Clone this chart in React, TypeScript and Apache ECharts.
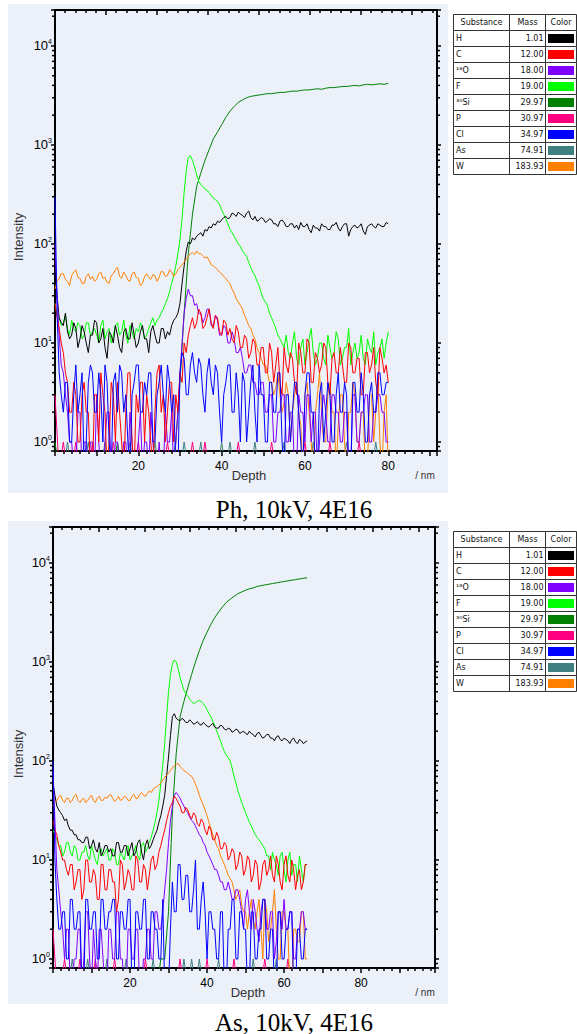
import React, { useEffect, useRef } from 'react';
import * as echarts from 'echarts';

// ---------- Legend table ----------
const SUBSTANCES = ['H', 'C', '¹⁸O', 'F', '³⁰Si', 'P', 'Cl', 'As', 'W'];
const MASSES = ['1.01', '12.00', '18.00', '19.00', '29.97', '30.97', '34.97', '74.91', '183.93'];
const COLORS = ['#000000', '#FF0000', '#8000FF', '#00FF00', '#008000', '#FF0080', '#0000FF', '#408080', '#FF8000'];
const TABLE_HEADERS = ['Substance', 'Mass', 'Color'];

// ---------- Axes ----------
const X_LABELS = [20, 40, 60, 80];
const Y_MINOR_TICKS = [0.9, 2, 3, 4, 5, 6, 7, 8, 9, 20, 30, 40, 50, 60, 70, 80, 90, 200, 300, 400, 500, 600, 700, 800, 900,
  2000, 3000, 4000, 5000, 6000, 7000, 8000, 9000, 20000];
const Y_MIN = 0.811;
const Y_MAX = 23100;
const CAPTIONS = ['Ph, 10kV, 4E16', 'As, 10kV, 4E16'];
// sampling step (nm) of each series, in SUBSTANCES order; samples start at 0 nm
const SERIES_STEP = [0.5, 0.5, 0.5, 0.5, 1, 1, 0.5, 1, 0.5];
const ZERO_FLOOR = 0.5; // zero counts sit below the axis floor

// ---------- Panel 1: Ph (depth 0..80 nm) ----------
const PH_H = [60, 30, 18, 16, 15, 20, 13, 11, 12, 16,
  14, 9, 11, 15, 13, 10, 8, 12, 12, 17,
  16, 10, 11, 14, 9, 7, 13, 12, 10, 15,
  12, 9, 8, 13, 14, 11, 11, 16, 12, 9,
  10, 13, 15, 11, 11, 8, 13, 15, 12, 10,
  10, 14, 14, 11, 13, 12, 15, 17, 18, 20,
  25, 40, 60, 85, 105, 100, 115, 110, 120, 125,
  130, 120, 140, 135, 150, 145, 160, 155, 170, 165,
  175, 185, 190, 180, 185, 205, 200, 190, 210, 200,
  195, 185, 205, 215, 185, 175, 190, 170, 175, 185,
  180, 165, 170, 180, 175, 160, 160, 150, 170, 175,
  165, 150, 150, 160, 160, 145, 155, 140, 165, 150,
  150, 160, 140, 130, 155, 145, 145, 135, 160, 150,
  150, 140, 140, 155, 155, 165, 145, 135, 150, 160,
  160, 120, 140, 150, 155, 145, 150, 160, 135, 125,
  150, 155, 160, 150, 145, 160, 155, 150, 150, 165,
  160];
const PH_C = [25, 18, 14, 10, 8, 5, 4, 2, 2, 4,
  3, 1, 1, 3, 4, 2, 2, 0, 0, 3,
  3, 1, 5, 3, 2, 0, 1, 4, 3, 1,
  4, 2, 1, 0, 2, 5, 5, 1, 0, 3,
  2, 4, 4, 1, 3, 2, 1, 0, 2, 5,
  6, 2, 3, 1, 2, 4, 4, 1, 3, 2,
  5, 4, 10, 8, 12, 15, 18, 14, 16, 22,
  20, 14, 15, 18, 22, 16, 14, 19, 18, 13,
  12, 17, 16, 12, 14, 11, 10, 15, 13, 9,
  9, 12, 11, 7, 8, 11, 10, 6, 6, 9,
  9, 5, 5, 10, 8, 4, 6, 9, 4, 3,
  9, 6, 5, 8, 7, 4, 3, 10, 8, 5,
  5, 11, 10, 4, 4, 8, 7, 5, 6, 10,
  9, 4, 3, 7, 8, 5, 5, 9, 6, 4,
  4, 10, 9, 5, 5, 7, 7, 3, 3, 8,
  8, 5, 6, 9, 4, 3, 9, 7, 5, 6,
  4];
const PH_O18 = [100, 30, 12, 6, 5, 3, 2, 1, 1, 0,
  0, 2, 2, 0, 1, 1, 0, 1, 1, 0,
  3, 1, 0, 0, 1, 2, 2, 0, 0, 1,
  1, 0, 0, 1, 1, 0, 2, 1, 0, 0,
  1, 2, 0, 1, 1, 0, 2, 1, 0, 0,
  1, 0, 0, 2, 1, 1, 2, 0, 1, 2,
  5, 10, 20, 28, 35, 30, 30, 24, 25, 20,
  20, 16, 18, 22, 22, 15, 15, 19, 17, 12,
  12, 15, 14, 10, 10, 13, 11, 8, 8, 9,
  7, 5, 5, 6, 6, 4, 4, 3, 3, 4,
  4, 2, 2, 3, 3, 1, 1, 2, 2, 3,
  3, 1, 1, 2, 2, 0, 0, 3, 2, 2,
  1, 3, 3, 1, 2, 2, 0, 1, 2, 3,
  2, 1, 1, 3, 3, 2, 2, 1, 1, 2,
  2, 0, 0, 3, 3, 1, 1, 2, 2, 3,
  3, 1, 1, 2, 2, 3, 3, 2, 2, 1,
  1];
const PH_F = [25, 20, 18, 15, 16, 19, 14, 12, 17, 14,
  13, 16, 15, 11, 12, 16, 16, 12, 13, 14,
  12, 10, 15, 17, 11, 13, 14, 10, 12, 15,
  16, 12, 13, 17, 12, 10, 15, 13, 11, 14,
  13, 16, 14, 11, 12, 14, 16, 18, 15, 17,
  18, 20, 22, 25, 28, 33, 40, 48, 60, 80,
  110, 180, 330, 550, 750, 780, 700, 600, 500, 430,
  400, 380, 360, 350, 330, 310, 290, 280, 270, 250,
  220, 200, 180, 160, 140, 130, 120, 110, 100, 95,
  85, 80, 75, 65, 58, 52, 48, 42, 38, 32,
  28, 26, 24, 20, 18, 16, 14, 12, 11, 10,
  9, 12, 8, 7, 10, 13, 7, 6, 9, 11,
  6, 8, 11, 14, 8, 6, 7, 10, 10, 7,
  6, 12, 9, 7, 8, 13, 11, 6, 7, 9,
  9, 14, 6, 8, 10, 7, 8, 12, 7, 6,
  11, 9, 8, 13, 6, 8, 9, 11, 7, 10,
  13];
const PH_SI30 = [1, 0, 0, 0, 0, 0, 0, 0, 0, 0, 0, 0, 0, 0, 0, 1, 0, 0, 0, 0, 0, 0, 0, 0, 0, 0, 0, 0, 0, 1,
  4, 20, 80, 200, 380, 520, 700, 900, 1150, 1350, 1600, 1900, 2200, 2450, 2700, 2850, 3000, 3100, 3150, 3200,
  3250, 3300, 3300, 3350, 3400, 3400, 3450, 3500, 3500, 3550, 3600, 3600, 3650, 3700, 3650, 3750, 3800, 3800, 3850, 3900,
  3900, 3950, 4000, 3950, 4050, 4100, 4050, 4100, 4150, 4100, 4200];
const PH_P = [3, 0, 1, 0, 0, 1, 0, 0, 0, 1, 0, 0, 0, 0, 1, 0, 0, 0, 0, 0, 1, 0, 0, 0, 0, 0, 0, 1, 0, 0,
  0, 0, 0, 1, 0, 0, 1, 0, 0, 0, 0, 0, 0, 0, 1, 0, 0, 0, 0, 0, 0, 0, 1, 0, 0, 0, 0, 0, 0, 0,
  1, 0, 0, 0, 0, 0, 1, 0, 0, 0, 0, 0, 0, 1, 0, 0, 0, 0, 0, 0, 0];
const PH_CL = [300, 20, 5, 3, 2, 4, 4, 1, 1, 3,
  6, 2, 3, 5, 0, 1, 4, 6, 5, 2,
  2, 5, 3, 1, 6, 4, 1, 0, 4, 5,
  2, 6, 5, 2, 3, 1, 0, 3, 4, 6,
  6, 2, 2, 4, 3, 5, 5, 1, 1, 3,
  4, 6, 3, 2, 6, 4, 2, 3, 0, 0,
  5, 8, 7, 3, 3, 6, 8, 5, 4, 7,
  6, 3, 2, 5, 7, 4, 3, 6, 5, 2,
  1, 3, 4, 6, 6, 2, 2, 5, 3, 1,
  5, 4, 1, 2, 4, 6, 2, 1, 6, 3,
  3, 1, 1, 4, 4, 2, 2, 5, 5, 1,
  0, 3, 3, 1, 2, 4, 4, 2, 1, 0,
  3, 5, 5, 2, 2, 0, 0, 3, 4, 1,
  2, 4, 3, 1, 1, 3, 5, 2, 2, 4,
  3, 0, 0, 4, 4, 2, 2, 5, 3, 1,
  1, 3, 4, 2, 2, 5, 5, 3, 3, 4,
  4];
const PH_AS = [0, 0, 0, 1, 0, 0, 0, 0, 1, 0, 0, 0, 1, 0, 0, 0, 0, 0, 1, 0, 0, 0, 0, 0, 1, 0, 0, 0, 0, 0,
  0, 1, 0, 0, 0, 1, 0, 0, 0, 0, 1, 0, 1, 0, 0, 0, 0, 0, 1, 0, 0, 0, 0, 0, 0, 1, 0, 0, 0, 0,
  0, 0, 1, 0, 0, 0, 0, 0, 0, 0, 1, 0, 0, 0, 0, 0, 0, 1, 0, 0, 0];
const PH_W = [35, 42, 45, 50, 50, 44, 42, 38, 48, 52,
  55, 46, 45, 40, 40, 47, 50, 44, 47, 42,
  44, 50, 52, 45, 46, 41, 40, 48, 50, 55,
  58, 47, 45, 52, 48, 43, 42, 50, 52, 46,
  45, 38, 40, 47, 50, 46, 44, 49, 48, 42,
  46, 53, 52, 47, 48, 55, 52, 47, 50, 55,
  58, 62, 65, 70, 75, 80, 82, 78, 85, 80,
  80, 76, 72, 74, 68, 62, 60, 58, 55, 52,
  50, 47, 45, 42, 40, 35, 32, 28, 26, 24,
  22, 19, 17, 15, 14, 12, 11, 9, 8, 7,
  6, 6, 5, 4, 4, 3, 3.5, 5, 3, 2,
  2.5, 4, 3, 1, 2, 3, 4, 2, 1.5, 0,
  3, 4, 2, 1, 0, 2, 3, 5, 2, 1,
  1, 3, 4, 2, 2, 0, 1.5, 3, 3, 1,
  0, 2, 2, 4, 3, 1, 1, 2, 2, 0,
  0, 3, 3, 1, 2, 4, 1, 0, 2, 3,
  0];

// ---------- Panel 2: As (depth 0..66 nm) ----------
const AS_H = [60, 45, 35, 32, 30, 28, 25, 26, 22, 20,
  20, 18, 18, 16, 16, 15, 15, 17, 17, 13,
  14, 16, 13, 12, 15, 11, 12, 14, 14, 12,
  13, 11, 11, 15, 15, 12, 12, 14, 14, 11,
  13, 15, 11, 12, 15, 16, 12, 10, 14, 16,
  13, 14, 16, 18, 20, 24, 28, 35, 45, 70,
  110, 180, 280, 300, 270, 260, 255, 270, 260, 245,
  245, 260, 250, 235, 240, 250, 235, 230, 245, 235,
  225, 220, 230, 240, 220, 215, 215, 230, 225, 210,
  205, 215, 210, 195, 200, 210, 205, 190, 195, 200,
  190, 185, 200, 190, 185, 175, 190, 195, 180, 170,
  175, 185, 185, 170, 170, 160, 175, 180, 165, 160,
  170, 165, 160, 150, 165, 170, 155, 150, 165, 160,
  150, 155, 160];
const AS_C = [25, 20, 18, 14, 12, 10, 10, 8, 7, 9,
  9, 5, 6, 8, 8, 4, 5, 10, 10, 6,
  6, 8, 7, 4, 4, 9, 9, 5, 5, 8,
  8, 6, 6, 3, 4, 10, 9, 5, 6, 8,
  7, 5, 5, 11, 10, 6, 6, 9, 8, 5,
  7, 10, 11, 8, 9, 12, 14, 17, 20, 25,
  30, 35, 38, 44, 42, 38, 35, 30, 30, 34,
  32, 28, 26, 30, 28, 23, 22, 26, 24, 20,
  18, 22, 20, 16, 16, 19, 17, 13, 13, 15,
  14, 10, 11, 13, 12, 8, 9, 12, 11, 7,
  8, 11, 10, 6, 7, 10, 9, 5, 6, 9,
  10, 7, 8, 11, 7, 6, 11, 9, 6, 5,
  9, 11, 7, 6, 10, 8, 5, 7, 8, 5,
  6, 9, 9];
const AS_O18 = [80, 25, 8, 5, 3, 2, 1, 2, 2, 0,
  0, 1, 1, 2, 2, 0, 1, 3, 3, 1,
  0, 2, 1, 0, 2, 2, 1, 0, 0, 2,
  2, 1, 1, 3, 3, 1, 1, 0, 0, 2,
  2, 1, 1, 2, 2, 0, 0, 1, 1, 2,
  2, 1, 1, 3, 3, 2, 2, 3, 5, 8,
  15, 25, 35, 45, 48, 45, 42, 38, 35, 32,
  30, 27, 25, 24, 22, 20, 18, 17, 15, 14,
  12, 11, 10, 9, 8, 8, 7, 6, 6, 5,
  5, 6, 5, 4, 4, 5, 5, 4, 3, 2,
  4, 5, 3, 2, 4, 3, 2, 1.5, 3, 4,
  4, 2, 2, 3, 3, 1, 1.5, 3, 3, 2,
  4, 2, 2, 3, 3, 1, 1, 2, 2, 3,
  3, 2, 2];
const AS_F = [20, 18, 16, 14, 14, 11, 12, 15, 15, 12,
  11, 14, 13, 10, 10, 12, 12, 14, 11, 10,
  14, 12, 10, 9, 12, 13, 11, 12, 13, 10,
  10, 13, 12, 9, 9, 12, 11, 10, 13, 14,
  10, 11, 12, 14, 11, 10, 14, 15, 12, 13,
  15, 17, 20, 24, 30, 40, 60, 90, 150, 280,
  500, 750, 950, 1050, 1000, 850, 700, 600, 520, 480,
  450, 420, 400, 380, 390, 400, 410, 400, 380, 360,
  330, 300, 280, 250, 230, 200, 180, 160, 140, 125,
  115, 108, 100, 85, 70, 60, 50, 44, 38, 34,
  30, 27, 24, 22, 20, 18, 17, 16, 15, 14,
  13, 11, 11, 8, 12, 10, 9, 7, 11, 12,
  8, 6, 10, 12, 7, 9, 9, 6, 11, 8,
  6, 9, 9];
const AS_SI30 = [0, 0, 0, 0, 0, 0, 0, 0, 0, 0, 0, 0, 0, 0, 0, 0, 0, 0, 0, 0, 0, 0, 0, 0, 0, 0, 0, 0, 1, 1,
  3, 30, 120, 280, 400, 550, 750, 1000, 1300, 1650, 2000, 2400, 2800, 3200, 3600, 4000, 4300, 4600, 4900, 5100,
  5300, 5500, 5600, 5800, 5900, 6000, 6100, 6200, 6300, 6400, 6500, 6600, 6700, 6800, 6900, 7000, 7100];
const AS_P = [2, 0, 0, 1, 0, 0, 0, 1, 0, 0, 0, 1, 0, 0, 0, 0, 1, 0, 0, 0, 0, 0, 0, 0, 1, 0, 0, 0, 0, 0,
  0, 0, 0, 1, 0, 0, 0, 0, 0, 0, 1, 0, 0, 0, 0, 0, 0, 1, 0, 0, 0, 0, 0, 0, 0, 1, 0, 0, 0, 0,
  0, 1, 0, 0, 0, 0, 0];
const AS_CL = [100, 10, 4, 2, 2, 3, 3, 1, 1, 4,
  4, 2, 2, 3, 3, 0, 0, 4, 4, 2,
  2, 3, 3, 1, 1, 4, 4, 2, 2, 3,
  3, 4, 4, 1, 1, 3, 3, 2, 2, 4,
  4, 0, 0, 3, 3, 2, 2, 4, 4, 1,
  1, 3, 3, 2, 2, 1, 1, 4, 0, 0,
  0, 2, 6, 3, 3, 9, 9, 4, 4, 7,
  7, 3, 3, 5, 10, 2, 2, 4, 6, 3,
  1, 3, 3, 2, 2, 1, 1, 3, 3, 0,
  0, 2, 2, 4, 4, 1, 1, 3, 3, 2,
  2, 0, 0, 3, 3, 1, 1, 2, 2, 4,
  4, 1, 1, 2, 2, 0, 0, 3, 3, 1,
  1, 2, 2, 3, 3, 0, 0, 2, 2, 1,
  1, 2, 2];
const AS_AS = [0, 0, 0, 0, 0, 1, 0, 0, 0, 1, 0, 0, 0, 0, 1, 0, 0, 0, 0, 1, 0, 0, 0, 0, 0, 0, 1, 0, 0, 0,
  0, 0, 0, 0, 1, 0, 1, 0, 1, 0, 0, 0, 0, 1, 0, 0, 0, 0, 0, 0, 0, 0, 1, 0, 0, 0, 0, 0, 1, 0,
  0, 0, 0, 0, 0, 0, 0];
const AS_W = [35, 38, 40, 43, 45, 40, 38, 42, 42, 38,
  40, 44, 46, 40, 38, 41, 42, 38, 40, 43,
  45, 40, 38, 42, 44, 40, 40, 43, 42, 45,
  46, 42, 39, 41, 44, 40, 41, 44, 43, 40,
  40, 44, 46, 42, 42, 46, 48, 45, 44, 47,
  50, 48, 52, 54, 55, 57, 60, 64, 68, 72,
  75, 80, 85, 90, 92, 95, 88, 84, 80, 78,
  75, 72, 70, 65, 58, 52, 45, 40, 36, 32,
  28, 24, 21, 18, 16, 14, 13, 11, 10, 9,
  8, 7, 6.5, 6, 5, 4, 4.5, 5, 3.5, 3,
  3, 2, 3, 4, 2.5, 2, 3, 4, 2, 1,
  4, 3, 1.5, 2, 3, 5, 2, 1, 1, 3,
  3, 2, 2, 0, 0, 2, 2, 1.5, 1.5, 3,
  3, 1, 1];

// order matches SUBSTANCES
const PH_SERIES = [PH_H, PH_C, PH_O18, PH_F, PH_SI30, PH_P, PH_CL, PH_AS, PH_W];
const AS_SERIES = [AS_H, AS_C, AS_O18, AS_F, AS_SI30, AS_P, AS_CL, AS_AS, AS_W];
const PANEL_DATA = [PH_SERIES, AS_SERIES];
const DRAW_ORDER = [7, 5, 4, 3, 0, 8, 2, 1, 6];

// ---------- Layout (positions / styles only) ----------
const LAYOUT = [
  { left: 55, top: 10, width: 382, height: 441, bgTop: 4, bgH: 489, xMax: 91.7, topMax: 7.49, captionY: 509, tableTop: 14, depthX: 249 },
  { left: 53, top: 527, width: 382, height: 441, bgTop: 521, bgH: 483, xMax: 99.2, topMax: 8.36, captionY: 1022, tableTop: 531, depthX: 248 },
];
const BG = '#ECF0F9';
const SANS = 'Liberation Sans, Arial, sans-serif';
const TABLE_FONT = 'DejaVu Sans, Liberation Sans, sans-serif';
const COL_X = [453, 509, 545, 576];
const ROW_H = 16;

function logLabel(v: number) {
  const e = Math.log10(v);
  const r = Math.round(e);
  if (Math.abs(e - r) > 1e-6) return '';
  return `{b|10}{s|${r}}`;
}

function buildOption() {
  const grid: any[] = [];
  const xAxis: any[] = [];
  const yAxis: any[] = [];
  const series: any[] = [];
  const graphic: any[] = [];

  LAYOUT.forEach((L, p) => {
    grid.push({ left: L.left, top: L.top, width: L.width, height: L.height, containLabel: false });
    const axisLine = { show: true, onZero: false, lineStyle: { color: '#000', width: 2 } };
    xAxis.push({
      type: 'value', gridIndex: p, position: 'bottom', min: 0, max: L.xMax, interval: 10,
      axisLine,
      axisTick: { show: true, inside: false, length: 5, lineStyle: { color: '#000', width: 1.5 } },
      minorTick: { show: true, splitNumber: 5, length: 3, lineStyle: { color: '#000', width: 1.5 } },
      axisLabel: {
        show: true, margin: 9, color: '#000', fontSize: 12, fontFamily: SANS,
        formatter: (v: number) => (X_LABELS.indexOf(v) >= 0 ? String(v) : ''),
      },
      splitLine: { show: false }, minorSplitLine: { show: false },
    });
    xAxis.push({
      type: 'value', gridIndex: p, position: 'top', min: 0, max: L.topMax, interval: 1,
      axisLine,
      axisTick: { show: true, inside: true, length: 5, lineStyle: { color: '#000', width: 1.5 } },
      minorTick: { show: true, splitNumber: 5, length: 3, lineStyle: { color: '#000', width: 1.5 } },
      axisLabel: { show: false },
      splitLine: { show: false }, minorSplitLine: { show: false },
    });
    const yBase = {
      type: 'log', logBase: 10, gridIndex: p, min: Y_MIN, max: Y_MAX,
      axisLine,
      axisTick: { show: true, inside: false, length: 4, lineStyle: { color: '#000', width: 1.5 } },
      splitLine: { show: false },
    };
    yAxis.push({
      ...yBase, position: 'left',
      axisLabel: {
        show: true, margin: 3, formatter: logLabel,
        rich: {
          b: { fontSize: 13, fontFamily: SANS, color: '#000', lineHeight: 15 },
          s: { fontSize: 7, fontFamily: SANS, color: '#000', verticalAlign: 'top', lineHeight: 8 },
        },
      },
    });
    yAxis.push({ ...yBase, position: 'right', axisLabel: { show: false } });

    const data = PANEL_DATA[p];
    DRAW_ORDER.forEach((k) => {
      const step = SERIES_STEP[k];
      series.push({
        type: 'line', name: SUBSTANCES[k] + ' ' + p,
        xAxisIndex: 2 * p, yAxisIndex: 2 * p,
        data: data[k].map((v, i) => [i * step, v > 0 ? v : ZERO_FLOOR]),
        showSymbol: false, symbol: 'none', silent: true, clip: true,
        lineStyle: { color: COLORS[k], width: 1 }, itemStyle: { color: COLORS[k] },
      });
    });
    series.push({
      type: 'custom', xAxisIndex: 2 * p, yAxisIndex: 2 * p, silent: true, clip: false, z: 5,
      data: Y_MINOR_TICKS.map((v) => [0, v]),
      renderItem: (params: any, api: any) => {
        const y = api.coord([0, api.value(1)])[1];
        const cs = params.coordSys;
        const st = { stroke: '#000', lineWidth: 1.5 };
        return {
          type: 'group',
          children: [
            { type: 'line', shape: { x1: cs.x - 3, y1: y, x2: cs.x, y2: y }, style: st },
            { type: 'line', shape: { x1: cs.x + cs.width, y1: y, x2: cs.x + cs.width + 3, y2: y }, style: st },
          ],
        };
      },
    });

    // background panel
    graphic.push({ type: 'rect', z: -10, silent: true, shape: { x: 8, y: L.bgTop, width: 440, height: L.bgH }, style: { fill: BG } });
    // axis names
    graphic.push({
      type: 'text', x: 18, y: L.top + 227, rotation: Math.PI / 2, silent: true,
      style: { text: 'Intensity', fill: '#333', font: `13px ${SANS}`, align: 'center', verticalAlign: 'middle' },
    });
    graphic.push({
      type: 'text', x: L.depthX, y: L.top + L.height + 24, silent: true,
      style: { text: 'Depth', fill: '#333', font: `13px ${SANS}`, align: 'center', verticalAlign: 'middle' },
    });
    graphic.push({
      type: 'text', x: 425, y: L.top + L.height + 24, silent: true,
      style: { text: '/ nm', fill: '#333', font: `10px ${SANS}`, align: 'center', verticalAlign: 'middle' },
    });
    // caption
    graphic.push({
      type: 'text', x: 294, y: L.captionY, silent: true,
      style: { text: CAPTIONS[p], fill: '#000', font: `25px Liberation Serif, Times New Roman, serif`, align: 'center', verticalAlign: 'middle' },
    });
    // legend table
    const T = L.tableTop;
    for (let r = 0; r <= SUBSTANCES.length; r++) {
      for (let c = 0; c < 3; c++) {
        graphic.push({
          type: 'rect', silent: true,
          shape: { x: COL_X[c] + 0.5, y: T + r * ROW_H + 0.5, width: COL_X[c + 1] - COL_X[c], height: ROW_H },
          style: { fill: '#fff', stroke: '#333', lineWidth: 1 },
        });
      }
      const cy = T + r * ROW_H + ROW_H / 2 + 0.5;
      if (r === 0) {
        TABLE_HEADERS.forEach((h, c) => {
          graphic.push({
            type: 'text', silent: true, x: (COL_X[c] + COL_X[c + 1]) / 2 + 0.5, y: cy,
            style: { text: h, fill: '#111', font: `8px ${TABLE_FONT}`, align: 'center', verticalAlign: 'middle' },
          });
        });
      } else {
        const k = r - 1;
        graphic.push({
          type: 'text', silent: true, x: COL_X[0] + 3, y: cy,
          style: { text: SUBSTANCES[k], fill: '#111', font: `8px ${TABLE_FONT}`, align: 'left', verticalAlign: 'middle' },
        });
        graphic.push({
          type: 'text', silent: true, x: COL_X[2] - 1.5, y: cy,
          style: { text: MASSES[k], fill: '#111', font: `8px ${TABLE_FONT}`, align: 'right', verticalAlign: 'middle' },
        });
        graphic.push({
          type: 'rect', silent: true,
          shape: { x: COL_X[2] + 3, y: cy - 4.5, width: 26, height: 9 },
          style: { fill: COLORS[k] },
        });
      }
    }
  });

  return { animation: false, grid, xAxis, yAxis, series, graphic };
}

export default function App() {
  const ref = useRef<HTMLDivElement>(null);
  useEffect(() => {
    if (!ref.current) return;
    const chart = echarts.init(ref.current, undefined, { renderer: 'svg' });
    chart.setOption(buildOption() as any);
    return () => chart.dispose();
  }, []);
  return <div ref={ref} style={{ position: 'fixed', left: 0, top: 0, width: 577, height: 1034, background: '#fff' }} />;
}
